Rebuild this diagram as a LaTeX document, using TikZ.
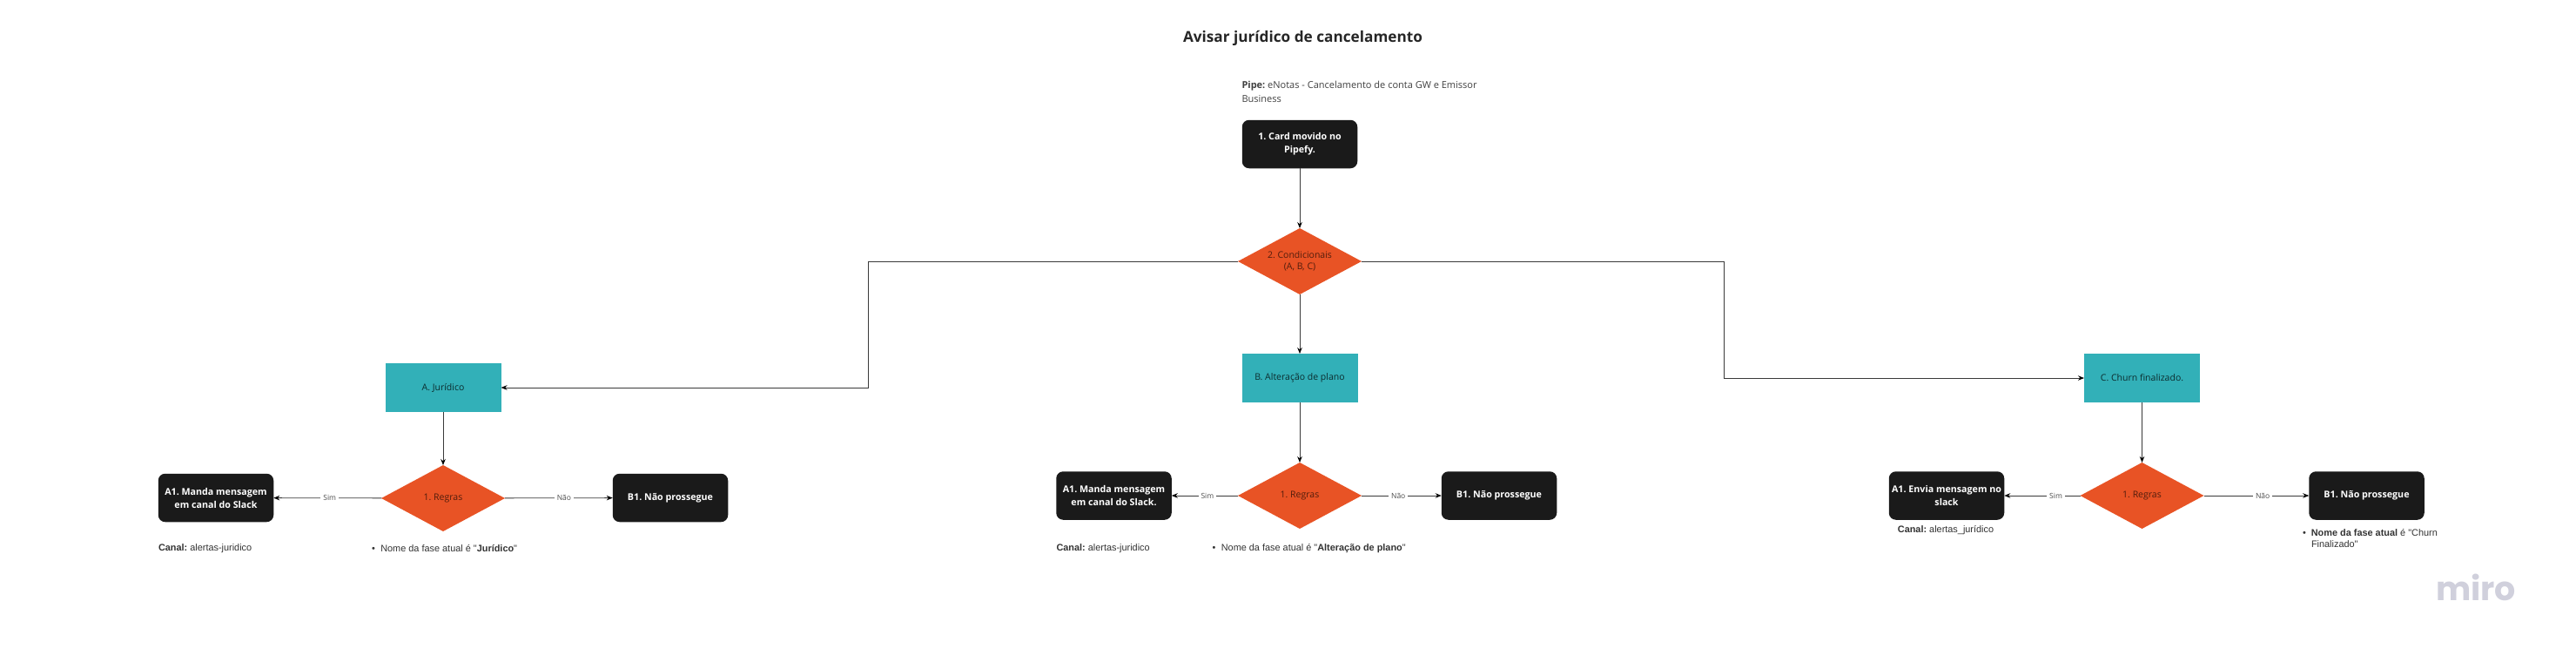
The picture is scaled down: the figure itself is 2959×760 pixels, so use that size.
\documentclass[tikz,border=0pt]{standalone}
\usepackage{fontspec}
\setmainfont{Open Sans}
\newfontfamily\arialf{Liberation Sans}
\newfontfamily\mirof{Poppins}
\usetikzlibrary{shapes.geometric,arrows.meta}
\definecolor{cdark}{HTML}{1A1A1A}
\definecolor{corange}{HTML}{E85325}
\definecolor{cteal}{HTML}{32B0B8}
\definecolor{cline}{HTML}{3A3A3A}
\definecolor{cmiro}{HTML}{D0D0DC}
\frenchspacing
\tikzset{
  x=1pt,y=-1pt,
  every node/.style={inner sep=0pt,outer sep=0pt},
  blackbox/.style={fill=cdark,rounded corners=8pt,minimum width=132.5pt,minimum height=55.5pt,text=white,align=center,font=\fontsize{10.7}{15}\selectfont\bfseries},
  tealbox/.style={fill=cteal,minimum width=133pt,minimum height=56pt,text=black!75!cteal,font=\fontsize{10.5}{13}\selectfont},
  rule/.style={diamond,aspect=1.87,fill=corange,minimum width=142pt,minimum height=76pt,text=black!65!corange,align=center,font=\fontsize{10.5}{13.5}\selectfont},
  arr/.style={draw=cline,line width=0.8pt,-{Stealth[length=7pt,width=5.5pt,color=black]}},
  lab/.style={fill=white,inner xsep=3pt,inner ysep=1pt,text=black!70,font=\fontsize{8.5}{10}\selectfont},
  note/.style={anchor=west,text=black!80,font=\arialf\fontsize{10.9}{13}\selectfont},
}
\begin{document}
\begin{tikzpicture}
\useasboundingbox (0,0) rectangle (2959,760);
\fill[white] (0,0) rectangle (2959,760);
\node[font=\fontsize{17.2}{20}\selectfont\bfseries,text=black!85] (title) at (1496.5,44) {Avisar jurídico de cancelamento};
\node[anchor=north west,align=left,text=black!75,font=\fontsize{11}{16}\selectfont] (pipe) at (1426.5,93) {\textbf{Pipe:} eNotas - Cancelamento de conta GW e Emissor\\Business};
\node[blackbox] (card) at (1493,165.5) {\raisebox{-1pt}{1. Card movido no}\\\raisebox{-1pt}{Pipefy.}};
\node[rule] (cond) at (1493,300) {2. Condicionais\\(A, B, C)};
% branch A
\node[tealbox] (ta) at (509,445) {A. Jurídico};
\node[rule] (ra) at (509,572) {1. Regras};
\node[blackbox] (a1a) at (248,571.5) {A1. Manda mensagem\\em canal do Slack};
\node[blackbox] (b1a) at (770,571.5) {B1. Não prossegue};
\node[note] (ca) at (182,630) {\textbf{Canal:} alertas-juridico};
\node[note] (na) at (427,630) {•\hspace{6.5pt}Nome da fase atual é "\textbf{Jurídico}"};
% branch B
\node[tealbox] (tb) at (1493,434) {B. Alteração de plano};
\node[rule] (rb) at (1493,569) {1. Regras};
\node[blackbox] (a1b) at (1279.5,569) {A1. Manda mensagem\\em canal do Slack.};
\node[blackbox] (b1b) at (1722,569) {B1. Não prossegue};
\node[note] (cb) at (1213.5,630) {\textbf{Canal:} alertas-juridico};
\node[note] (nb) at (1392.5,630) {•\hspace{6.5pt}Nome da fase atual é "\textbf{Alteração de plano}"};
% branch C
\node[tealbox] (tc) at (2460.5,434) {C. Churn finalizado.};
\node[rule] (rc) at (2460.5,569) {1. Regras};
\node[blackbox] (a1c) at (2236,569) {A1. Envia mensagem no\\slack};
\node[blackbox] (b1c) at (2718.5,569) {B1. Não prossegue};
\node[note,anchor=center] (cc) at (2235,608.5) {\textbf{Canal:} alertas\_jurídico};
\node[note,anchor=north west,align=left] (nc) at (2645,607) {•\hspace{6pt}\textbf{Nome da fase atual} é "Churn\\\hspace*{10pt}Finalizado"};
\node[font=\mirof\fontsize{38}{40}\selectfont\bfseries,text=cmiro] (miro) at (2844,674) {miro};
% connectors
\draw[arr] (card) -- (cond);
\coordinate (la) at (997.5,300);
\coordinate (lb) at (997.5,445);
\coordinate (rt) at (1980,300);
\coordinate (rd) at (1980,434);
\draw[arr] (cond.west) -- (la) -- (lb) -- (ta.east);
\draw[arr] (cond.east) -- (rt) -- (rd) -- (tc.west);
\draw[arr] (cond) -- (tb);
\draw[arr] (ta) -- (ra);
\draw[arr] (tb) -- (rb);
\draw[arr] (tc) -- (rc);
\draw[arr] (ra) -- node[lab,pos=0.48] {Sim} (a1a);
\draw[arr] (ra) -- node[lab,pos=0.55] {Não} (b1a);
\draw[arr] (rb) -- node[lab,pos=0.46] {Sim} (a1b);
\draw[arr] (rb) -- node[lab,pos=0.46] {Não} (b1b);
\draw[arr] (rc) -- node[lab,pos=0.32] {Sim} (a1c);
\draw[arr] (rc) -- node[lab,pos=0.56] {Não} (b1c);
\end{tikzpicture}
\end{document}
